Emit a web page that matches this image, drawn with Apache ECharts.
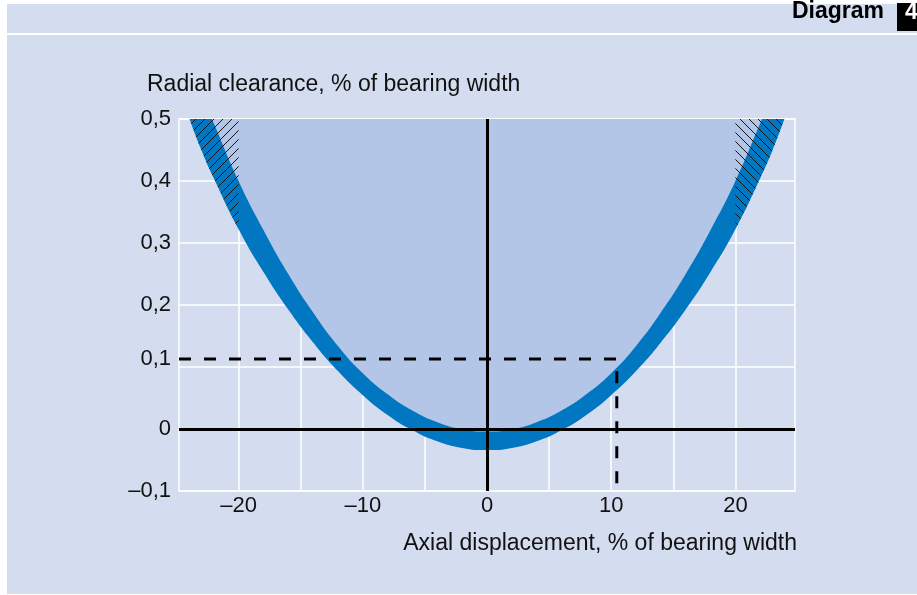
<!DOCTYPE html>
<html><head><meta charset="utf-8">
<script src="https://cdn.jsdelivr.net/npm/echarts@6/dist/echarts.min.js"></script>
<style>
html,body{margin:0;padding:0;background:#fff;}
#bg{position:absolute;left:7px;top:4px;width:910px;height:590px;background:#d3ddef;}
#c{position:absolute;left:0;top:0;width:917px;height:595px;}
</style>
</head><body><div id="bg"></div><div id="c"></div>
<script>
// Outer (lower) edge of the tolerance band
const outerX = [-23.95,-23,-22,-20,-18,-16,-14,-12,-10,-8,-6,-4,-2,0,2,4,6,8,10,12,14,16,18,20,22,23,23.95];
const outerY = [0.5,0.45,0.4045,0.322,0.2531,0.1926,0.1395,0.0934,0.0545,0.0226,-0.0021,-0.0198,-0.0305,-0.034,-0.0305,-0.0198,-0.0021,0.0226,0.0545,0.0934,0.1395,0.1926,0.2531,0.322,0.4045,0.45,0.5];
// Inner (upper) edge of the tolerance band
const innerX = [-22.15,-22,-20,-18,-16,-14,-12,-10,-8,-6,-4,-2,0,2,4,6,8,10,12,14,16,18,20,22,22.15];
const innerY = [0.5,0.493,0.4,0.321,0.25,0.188,0.134,0.09,0.056,0.0297,0.0109,-0.0003,-0.004,-0.0003,0.0109,0.0297,0.056,0.09,0.134,0.188,0.25,0.321,0.4,0.493,0.5];
// Hatched zones (outside ±20 %)
const hatchLX = [-23.95,-23,-22,-21,-20];
const hatchLY = [0.5,0.45,0.4045,0.363,0.322];
const hatchRX = [20,21,22,23,23.95];
const hatchRY = [0.322,0.363,0.4045,0.45,0.5];
// Example reading (dashed)
const exampleX = [-24.8,10.45,10.45];
const exampleY = [0.113,0.113,-0.1];
// Axes / ticks
const gridXValues = [-20,-15,-10,-5,5,10,15,20];
const xLabelValues = [-20,-10,0,10,20];
const xTickLabels = ['\u201320','\u201310','0','10','20'];
const yLabelValues = [-0.1,0,0.113,0.2,0.3,0.4,0.5];
const yTickLabels = ['\u20130,1','0','0,1','0,2','0,3','0,4','0,5'];

const zip = (xs, ys) => xs.map((x,i)=>[x, ys[i]]);
const FONT = "'Liberation Sans', Arial, Helvetica, sans-serif";

function hatch(dir){
  const c = document.createElement('canvas');
  c.width = 9; c.height = 9;
  const g = c.getContext('2d');
  g.strokeStyle = '#141414'; g.lineWidth = 1;
  g.beginPath();
  if (dir === 'L') {
    g.moveTo(-1,1); g.lineTo(1,-1);
    g.moveTo(0,9); g.lineTo(9,0);
    g.moveTo(8,10); g.lineTo(10,8);
  } else {
    g.moveTo(0,0); g.lineTo(9,9);
    g.moveTo(-1,8); g.lineTo(1,10);
    g.moveTo(8,-1); g.lineTo(10,1);
  }
  g.stroke();
  return c;
}
function nearestLabel(vals, labels, v){
  let bi = 0;
  vals.forEach((t,i)=>{ if (Math.abs(t-v) < Math.abs(vals[bi]-v)) bi = i; });
  return labels[bi];
}

const chart = echarts.init(document.getElementById('c'), null, {renderer:'canvas'});
chart.setOption({
  animation:false,
  backgroundColor:'transparent',
  grid:{left:179,right:122,top:119,bottom:104,show:true,borderColor:'#ffffff',borderWidth:1.5,backgroundColor:'transparent',z:0},
  xAxis:{type:'value',min:-24.8,max:24.8,z:0,
    axisLine:{show:false},axisTick:{show:false},splitLine:{show:false},
    axisLabel:{customValues:xLabelValues,formatter:v=>nearestLabel(xLabelValues,xTickLabels,v),
      color:'#111',fontSize:22,fontFamily:FONT,margin:4}},
  yAxis:{type:'value',min:-0.1,max:0.5,interval:0.1,z:0,
    axisLine:{show:false},axisTick:{show:false},
    splitLine:{show:true,lineStyle:{color:'#ffffff',width:1.5}},
    axisLabel:{customValues:yLabelValues,formatter:v=>nearestLabel(yLabelValues,yTickLabels,v),
      color:'#111',fontSize:22,fontFamily:FONT,margin:8}},
  graphic:[
    {type:'rect',shape:{x:7,y:33,width:910,height:2},style:{fill:'#ffffff'},silent:true},
    {type:'text',x:147,y:85,style:{text:'Radial clearance, % of bearing width',fill:'#111',font:'23px '+FONT,textAlign:'left',textVerticalAlign:'middle'}},
    {type:'text',x:797,y:544,style:{text:'Axial displacement, % of bearing width',fill:'#111',font:'23px '+FONT,textAlign:'right',textVerticalAlign:'middle'}},
    {type:'text',x:884,y:12,style:{text:'Diagram',fill:'#000',font:'bold 23px '+FONT,textAlign:'right',textVerticalAlign:'middle'}},
    {type:'rect',shape:{x:897,y:3,width:20,height:28},style:{fill:'#000'},silent:true},
    {type:'text',x:905,y:13,style:{text:'4',fill:'#fff',font:'bold 23px '+FONT,textAlign:'left',textVerticalAlign:'middle'}}
  ],
  series:[
    {type:'line',data:[],silent:true,z:1,
      markLine:{silent:true,z:1,symbol:'none',label:{show:false},animation:false,
        lineStyle:{color:'#ffffff',width:1.5,type:'solid'},
        data:gridXValues.map(v=>({xAxis:v}))}},
    {type:'line',data:zip(outerX,outerY),smooth:true,symbol:'none',silent:true,z:10,
      lineStyle:{width:0},areaStyle:{color:'#0077c0',opacity:1,origin:'end'}},
    {type:'line',data:zip(innerX,innerY),smooth:true,symbol:'none',silent:true,z:11,
      lineStyle:{width:0},areaStyle:{color:'#b3c6e7',opacity:1,origin:'end'}},
    {type:'line',data:zip(hatchLX,hatchLY),smooth:true,symbol:'none',silent:true,z:12,
      lineStyle:{width:0},areaStyle:{color:{image:hatch('L'),repeat:'repeat'},opacity:1,origin:'end'}},
    {type:'line',data:zip(hatchRX,hatchRY),smooth:true,symbol:'none',silent:true,z:12,
      lineStyle:{width:0},areaStyle:{color:{image:hatch('R'),repeat:'repeat'},opacity:1,origin:'end'}},
    {type:'line',data:[],silent:true,z:20,
      markLine:{silent:true,z:20,symbol:'none',label:{show:false},animation:false,
        lineStyle:{color:'#000',width:3,type:'solid'},
        data:[{xAxis:0},{yAxis:0}]}},
    {type:'line',data:zip(exampleX,exampleY),symbol:'none',silent:true,z:21,
      lineStyle:{color:'#000',width:3,type:[12,13]}}
  ]
});
</script>
</body></html>
